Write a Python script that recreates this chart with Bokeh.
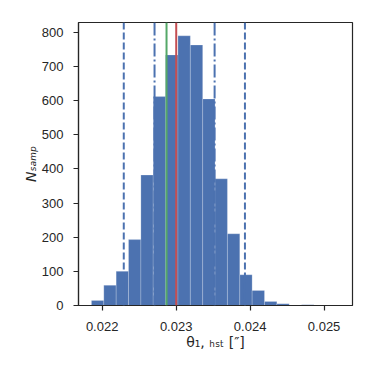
import numpy as np
from bokeh.plotting import figure
from bokeh.models import Span, FixedTicker, ColumnDataSource, Range1d
from bokeh.embed import file_html
from bokeh.resources import INLINE

# ---- data ----
bin_start = 0.021855
bin_width = 0.0001671
counts = [15, 59, 100, 193, 382, 612, 734, 790, 763, 605, 371, 210, 90, 44, 12, 5, 0, 2]
median_val = 0.023001
mode_val = 0.022870
inner_lo, inner_hi = 0.022708, 0.023520
outer_lo, outer_hi = 0.022292, 0.023930
x_ticks = [0.022, 0.023, 0.024, 0.025]
y_ticks = [0, 100, 200, 300, 400, 500, 600, 700, 800]
x_label = "θ₁, ₕₛₜ [″]"
y_label = "Nₛₐₘₚ"

edges = bin_start + bin_width * np.arange(len(counts) + 1)
src = ColumnDataSource(dict(left=edges[:-1], right=edges[1:], top=counts, bottom=[0] * len(counts)))

BLUE = "#4c72b0"
GREEN = "#55a868"
RED = "#c44e52"
TXT = "#262626"

W, H = 366, 366
p = figure(width=W, height=H, output_backend="svg", toolbar_location=None,
           x_range=Range1d(0.02168, 0.025384), y_range=Range1d(0, 829),
           min_border_left=78, min_border_right=14, min_border_top=22, min_border_bottom=61)

p.quad(left="left", right="right", top="top", bottom="bottom", source=src,
       fill_color=BLUE, line_color="white", line_alpha=0.2, line_width=1)

for loc in (outer_lo, outer_hi):
    p.add_layout(Span(location=loc, dimension="height", line_color=BLUE, line_width=2, line_dash="7 3"))
for loc in (inner_lo, inner_hi):
    p.add_layout(Span(location=loc, dimension="height", line_color=BLUE, line_width=2, line_dash="13 3 2 3"))
p.add_layout(Span(location=mode_val, dimension="height", line_color=GREEN, line_width=2))
p.add_layout(Span(location=median_val, dimension="height", line_color=RED, line_width=2))

p.xgrid.visible = False
p.ygrid.visible = False
p.outline_line_color = TXT
p.outline_line_width = 1.2
p.background_fill_color = "white"
p.border_fill_color = "white"

p.xaxis.ticker = FixedTicker(ticks=x_ticks)
p.xaxis.major_label_overrides = {t: f"{t:.3f}" for t in x_ticks}
p.yaxis.ticker = FixedTicker(ticks=y_ticks)
for ax in (p.xaxis, p.yaxis):
    ax.axis_line_color = TXT
    ax.axis_line_width = 1.2
    ax.major_tick_line_color = TXT
    ax.major_tick_line_width = 1.2
    ax.major_tick_out = 5
    ax.major_tick_in = 0
    ax.minor_tick_line_color = None
    ax.major_label_text_font = "Liberation Sans"
    ax.major_label_text_font_size = "13px"
    ax.major_label_text_color = TXT
    ax.axis_label_text_font = "DejaVu Sans"
    ax.axis_label_text_color = TXT
    ax.axis_label_text_font_size = "14px"
    ax.axis_label_standoff = 0
p.xaxis.major_label_standoff = 11
p.yaxis.major_label_standoff = 10
p.xaxis.axis_label = x_label
p.xaxis.axis_label_text_font_style = "normal"
p.yaxis.axis_label = y_label
p.yaxis.axis_label_text_font_style = "italic"

open("out.html", "w").write(file_html(p, INLINE))
